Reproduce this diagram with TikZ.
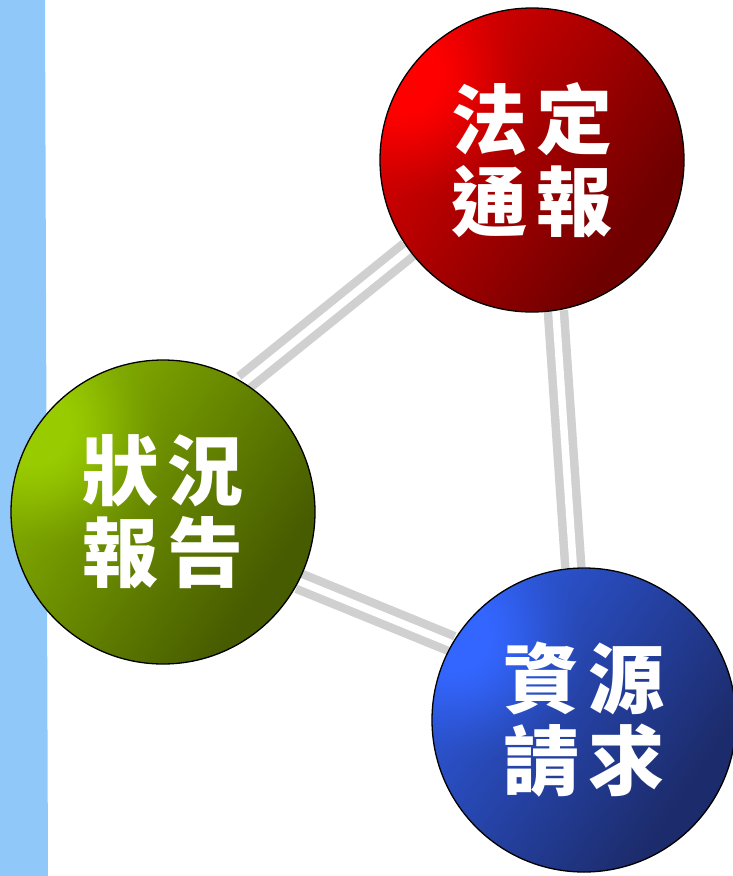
\documentclass[tikz,border=0pt]{standalone}
\usepackage{fontspec}
\newfontfamily\cjk{Noto Sans CJK TC}
\usetikzlibrary{backgrounds}
\definecolor{barblue}{HTML}{90C8FA}
\definecolor{linkgray}{HTML}{D0D0D0}
% circle covers [-25bp,25bp]; t = 0.655 + 0.35u + 0.24v (v downwards) minus a soft highlight at the upper left, clamped
\def\balltee{2 copy 0.0096 mul neg exch 0.014 mul add 0.655 add
  3 1 roll 25 div 0.45 sub dup mul exch 25 div 0.7 add dup mul add
  1.8 mul 1 exch sub dup 0 lt {pop 0} if dup mul 0.32 mul sub
  dup 0 lt {pop 0} if dup 1 gt {pop 1} if}
\pgfdeclarefunctionalshading{redball}{\pgfpoint{-50bp}{-50bp}}{\pgfpoint{50bp}{50bp}}{}{%
  \balltee\space dup dup -1 mul 0 add exch 0 mul 0 add exch 3 -1 roll -0.57 mul 1 add 3 1 roll}
\pgfdeclarefunctionalshading{greenball}{\pgfpoint{-50bp}{-50bp}}{\pgfpoint{50bp}{50bp}}{}{%
  \balltee\space dup dup 0 mul 0 add exch -0.44 mul 0.8 add exch 3 -1 roll -0.32 mul 0.6 add 3 1 roll}
\pgfdeclarefunctionalshading{blueball}{\pgfpoint{-50bp}{-50bp}}{\pgfpoint{50bp}{50bp}}{}{%
  \balltee\space dup dup -0.58 mul 1 add exch -0.23 mul 0.4 add exch 3 -1 roll -0.09 mul 0.2 add 3 1 roll}
\begin{document}
\begin{tikzpicture}[x=1pt,y=1pt,
  ball/.style={circle, minimum size=304pt, inner sep=0pt, draw=black, line width=1.3pt,
    text=white, align=center, font=\cjk\bfseries\fontsize{76}{82}\selectfont},
  link/.style={draw=linkgray, line width=8.5pt, double=white, double distance=7.5pt}]
\useasboundingbox (0,0) rectangle (733,-876);
\node[ball, shading=redball] (red) at (532,-160) {法\hspace{9pt}定\\通\hspace{9pt}報};
\node[ball, shading=greenball] (green) at (163,-512) {狀\hspace{9pt}況\\報\hspace{9pt}告};
\node[ball, shading=blueball] (blue) at (584,-720) {資\hspace{9pt}源\\請\hspace{9pt}求};
\begin{scope}[on background layer]
  \fill[barblue] (0,0) -- (45,0) -- (48,-876) -- (0,-876) -- cycle;
  \draw[link] (red.216) -- (green.58);
  \draw[link] (red.-81) -- (blue.94);
  \draw[link] (green.-27) -- (blue.150);
\end{scope}
\end{tikzpicture}
\end{document}
